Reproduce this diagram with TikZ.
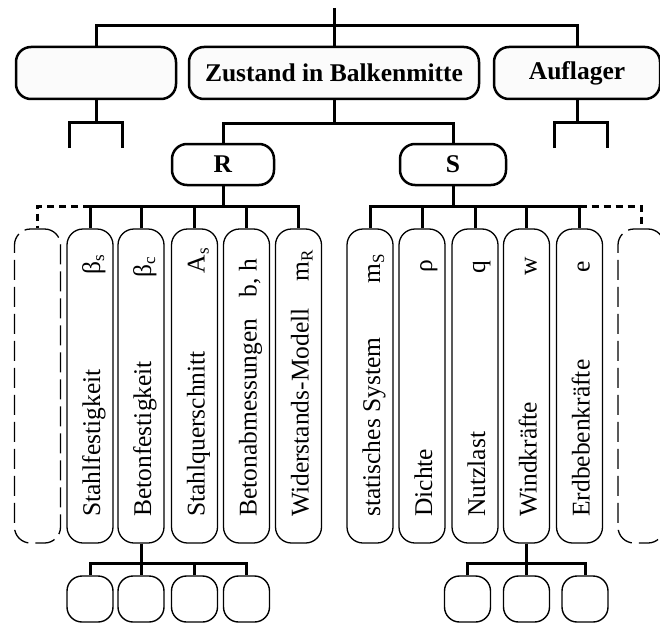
\documentclass[tikz,border=0pt]{standalone}
\usepackage{fontspec}
\setmainfont{Liberation Serif}
\newcommand\sbs[1]{\raisebox{-0.35ex}{\fontsize{17}{17}\selectfont #1}}
\begin{document}
\begin{tikzpicture}[x=1pt,y=-1pt,
  every node/.style={font=\fontsize{25.5}{28}\selectfont},
  conn/.style={line width=3pt},
  dconn/.style={line width=3pt,dash pattern=on 7pt off 5pt},
  topbox/.style={draw,line width=2.5pt,rounded corners=15pt,fill=gray!3,minimum height=52pt,inner sep=0pt},
  rsbox/.style={draw,line width=2.5pt,rounded corners=15pt,minimum height=41pt,inner sep=0pt},
  colbox/.style={draw,line width=1.3pt,rounded corners=16pt,minimum width=46pt,minimum height=314pt,inner sep=0pt},
  dcolbox/.style={colbox,dash pattern=on 20pt off 7pt},
  leafbox/.style={draw,line width=1.4pt,rounded corners=15pt,minimum width=46pt,minimum height=46pt,inner sep=0pt},
  lbl/.style={rotate=90,anchor=base west,inner sep=0pt},
  sym/.style={rotate=90,anchor=base east,inner sep=0pt}]
\path[use as bounding box,clip] (0,0) rectangle (660,623);
% top level
\coordinate (top) at (334,8);
\coordinate (hb) at (334,26);
\node[topbox,minimum width=160pt] (b1) at (96,73) {};
\node[topbox,minimum width=290pt] (zb) at (334,73) {\textbf{Zustand in Balkenmitte}};
\node[topbox,minimum width=166pt] (au) at (577,73) {\textbf{Auflager}};
\draw[conn] (top) -- (zb.north);
\draw[conn] (b1.north) |- (hb) -| (au.north);
% forks below left box and Auflager
\coordinate (f1) at (96,122);
\coordinate (f1a) at (69,148);
\coordinate (f1b) at (122,148);
\draw[conn] (b1.south) -- (f1);
\draw[conn] (f1a) |- (f1) -| (f1b);
\coordinate (f3) at (577,122);
\coordinate (f3a) at (554,148);
\coordinate (f3b) at (607,148);
\draw[conn] (au.south) -- (f3);
\draw[conn] (f3a) |- (f3) -| (f3b);
% R and S
\node[rsbox,minimum width=102pt] (R) at (223,164.5) {\textbf{R}};
\node[rsbox,minimum width=106pt] (S) at (453,164.5) {\textbf{S}};
\coordinate (zr) at (334,123);
\draw[conn] (zb.south) -- (zr);
\draw[conn] (R.north) |- (zr) -| (S.north);
% columns R
\node[dcolbox] (c0) at (37.5,386) {};
\node[colbox] (c1) at (90,386) {};
\node[colbox] (c2) at (141,386) {};
\node[colbox] (c3) at (194.5,386) {};
\node[colbox] (c4) at (246.5,386) {};
\node[colbox] (c5) at (298.5,386) {};
% columns S
\node[colbox] (s1) at (370,386) {};
\node[colbox] (s2) at (422,386) {};
\node[colbox] (s3) at (475,386) {};
\node[colbox] (s4) at (526.5,386) {};
\node[colbox] (s5) at (579.5,386) {};
\node[dcolbox] (s6) at (641,386) {};
% connectors R -> columns
\coordinate (rh) at (223,206);
\draw[conn] (R.south) -- (rh);
\draw[conn] (c1.north) |- (rh) -| (c5.north);
\foreach \c in {c2,c3,c4} \draw[conn] (\c.north) -- (\c.north |- rh);
\draw[dconn] (c1.north |- rh) -| (c0.north);
% connectors S -> columns
\coordinate (sh) at (453,206);
\draw[conn] (S.south) -- (sh);
\draw[conn] (s1.north) |- (sh) -| (s5.north);
\foreach \c in {s2,s3,s4} \draw[conn] (\c.north) -- (\c.north |- sh);
\draw[dconn] (s5.north |- sh) -| (s6.north);
% column labels
\node[lbl] (l1) at (100,517) {Stahlfestigkeit};
\node[lbl] (l2) at (151,517) {Betonfestigkeit};
\node[lbl] (l3) at (204.5,517) {Stahlquerschnitt};
\node[lbl] (l4) at (256.5,517) {Betonabmessungen};
\node[lbl] (l5) at (308.5,517) {Widerstands-Modell};
\node[lbl] (m1) at (380,517) {statisches System};
\node[lbl] (m2) at (432,517) {Dichte};
\node[lbl] (m3) at (485,517) {Nutzlast};
\node[lbl] (m4) at (536.5,517) {Windkräfte};
\node[lbl] (m5) at (589.5,517) {Erdbebenkräfte};
% symbols
\node[sym] (y1) at (100,255) {β\sbs{s}};
\node[sym] (y2) at (151,257) {β\sbs{c}};
\node[sym] (y3) at (204.5,248) {A\sbs{s}};
\node[sym] (y4) at (256.5,259) {b, h};
\node[sym] (y5) at (308.5,250) {m\sbs{R}};
\node[sym] (z1) at (380,254) {m\sbs{S}};
\node[sym] (z2) at (432,260) {ρ};
\node[sym] (z3) at (485,261) {q};
\node[sym] (z4) at (536.5,257) {w};
\node[sym] (z5) at (589.5,261) {e};
% bottom boxes R
\node[leafbox] (d1) at (90,599) {};
\node[leafbox] (d2) at (141,599) {};
\node[leafbox] (d3) at (194.5,599) {};
\node[leafbox] (d4) at (246.5,599) {};
\coordinate (bh) at (141,563);
\draw[conn] (c2.south) -- (d2.north);
\draw[conn] (d1.north) |- (bh) -| (d4.north);
\draw[conn] (d3.north) -- (d3.north |- bh);
% bottom boxes S
\node[leafbox] (e1) at (467.5,599) {};
\node[leafbox] (e2) at (526.5,599) {};
\node[leafbox] (e3) at (585,599) {};
\coordinate (eh) at (526.5,563);
\draw[conn] (s4.south) -- (e2.north);
\draw[conn] (e1.north) |- (eh) -| (e3.north);
\end{tikzpicture}
\end{document}
